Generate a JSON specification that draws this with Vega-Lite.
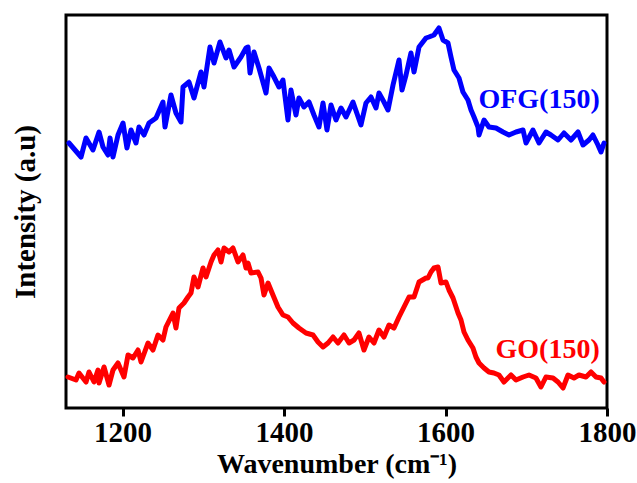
{
  "$schema": "https://vega.github.io/schema/vega-lite/v6.json",
  "autosize": "none",
  "width": 541,
  "height": 393,
  "padding": {"left": 66, "top": 15, "right": 30, "bottom": 75},
  "background": "white",
  "config": {
    "view": {"stroke": "black", "strokeWidth": 3},
    "font": "Liberation Serif"
  },
  "datasets": {
    "spectra": [
      {"w": 1133.7, "v": 265, "s": "OFG(150)"}, {"w": 1148.6, "v": 251, "s": "OFG(150)"}, {"w": 1154.8, "v": 270, "s": "OFG(150)"},
      {"w": 1163.4, "v": 258, "s": "OFG(150)"}, {"w": 1170.9, "v": 276, "s": "OFG(150)"}, {"w": 1175.8, "v": 261, "s": "OFG(150)"},
      {"w": 1182.0, "v": 253, "s": "OFG(150)"}, {"w": 1184.5, "v": 270, "s": "OFG(150)"}, {"w": 1188.2, "v": 251, "s": "OFG(150)"},
      {"w": 1194.4, "v": 273, "s": "OFG(150)"}, {"w": 1200.6, "v": 285, "s": "OFG(150)"}, {"w": 1205.5, "v": 260, "s": "OFG(150)"},
      {"w": 1210.5, "v": 278, "s": "OFG(150)"}, {"w": 1216.7, "v": 265, "s": "OFG(150)"}, {"w": 1220.4, "v": 281, "s": "OFG(150)"},
      {"w": 1226.6, "v": 273, "s": "OFG(150)"}, {"w": 1232.8, "v": 285, "s": "OFG(150)"}, {"w": 1241.5, "v": 290, "s": "OFG(150)"},
      {"w": 1250.1, "v": 306, "s": "OFG(150)"}, {"w": 1252.6, "v": 281, "s": "OFG(150)"}, {"w": 1260.0, "v": 313, "s": "OFG(150)"},
      {"w": 1266.2, "v": 295, "s": "OFG(150)"}, {"w": 1272.4, "v": 286, "s": "OFG(150)"}, {"w": 1274.9, "v": 321, "s": "OFG(150)"},
      {"w": 1282.3, "v": 326, "s": "OFG(150)"}, {"w": 1288.5, "v": 310, "s": "OFG(150)"}, {"w": 1297.2, "v": 336, "s": "OFG(150)"},
      {"w": 1300.9, "v": 321, "s": "OFG(150)"}, {"w": 1308.3, "v": 361, "s": "OFG(150)"}, {"w": 1313.3, "v": 345, "s": "OFG(150)"},
      {"w": 1320.7, "v": 366, "s": "OFG(150)"}, {"w": 1328.1, "v": 350, "s": "OFG(150)"}, {"w": 1331.9, "v": 358, "s": "OFG(150)"},
      {"w": 1338.1, "v": 341, "s": "OFG(150)"}, {"w": 1346.7, "v": 351, "s": "OFG(150)"}, {"w": 1352.9, "v": 360, "s": "OFG(150)"},
      {"w": 1355.4, "v": 361, "s": "OFG(150)"}, {"w": 1357.9, "v": 335, "s": "OFG(150)"}, {"w": 1362.8, "v": 356, "s": "OFG(150)"},
      {"w": 1369.0, "v": 340, "s": "OFG(150)"}, {"w": 1377.7, "v": 315, "s": "OFG(150)"}, {"w": 1381.4, "v": 340, "s": "OFG(150)"},
      {"w": 1386.3, "v": 333, "s": "OFG(150)"}, {"w": 1393.8, "v": 321, "s": "OFG(150)"}, {"w": 1398.7, "v": 328, "s": "OFG(150)"},
      {"w": 1404.9, "v": 288, "s": "OFG(150)"}, {"w": 1408.6, "v": 318, "s": "OFG(150)"}, {"w": 1414.8, "v": 293, "s": "OFG(150)"},
      {"w": 1418.5, "v": 310, "s": "OFG(150)"}, {"w": 1424.7, "v": 301, "s": "OFG(150)"}, {"w": 1430.9, "v": 306, "s": "OFG(150)"},
      {"w": 1437.1, "v": 293, "s": "OFG(150)"}, {"w": 1443.3, "v": 281, "s": "OFG(150)"}, {"w": 1448.3, "v": 305, "s": "OFG(150)"},
      {"w": 1453.2, "v": 278, "s": "OFG(150)"}, {"w": 1458.2, "v": 303, "s": "OFG(150)"}, {"w": 1464.4, "v": 288, "s": "OFG(150)"},
      {"w": 1470.6, "v": 300, "s": "OFG(150)"}, {"w": 1476.8, "v": 291, "s": "OFG(150)"}, {"w": 1485.4, "v": 306, "s": "OFG(150)"},
      {"w": 1495.3, "v": 283, "s": "OFG(150)"}, {"w": 1501.5, "v": 305, "s": "OFG(150)"}, {"w": 1507.7, "v": 311, "s": "OFG(150)"},
      {"w": 1513.9, "v": 300, "s": "OFG(150)"}, {"w": 1517.6, "v": 315, "s": "OFG(150)"}, {"w": 1523.8, "v": 306, "s": "OFG(150)"},
      {"w": 1528.8, "v": 298, "s": "OFG(150)"}, {"w": 1535.0, "v": 323, "s": "OFG(150)"}, {"w": 1542.4, "v": 348, "s": "OFG(150)"},
      {"w": 1546.1, "v": 318, "s": "OFG(150)"}, {"w": 1551.1, "v": 333, "s": "OFG(150)"}, {"w": 1557.2, "v": 355, "s": "OFG(150)"},
      {"w": 1561.0, "v": 336, "s": "OFG(150)"}, {"w": 1567.2, "v": 361, "s": "OFG(150)"}, {"w": 1575.8, "v": 370, "s": "OFG(150)"},
      {"w": 1579.5, "v": 371, "s": "OFG(150)"}, {"w": 1585.7, "v": 373, "s": "OFG(150)"}, {"w": 1591.9, "v": 380, "s": "OFG(150)"},
      {"w": 1596.9, "v": 368, "s": "OFG(150)"}, {"w": 1603.1, "v": 365, "s": "OFG(150)"}, {"w": 1606.8, "v": 351, "s": "OFG(150)"},
      {"w": 1610.5, "v": 338, "s": "OFG(150)"}, {"w": 1616.7, "v": 330, "s": "OFG(150)"}, {"w": 1621.6, "v": 316, "s": "OFG(150)"},
      {"w": 1627.8, "v": 308, "s": "OFG(150)"}, {"w": 1631.6, "v": 298, "s": "OFG(150)"}, {"w": 1635.3, "v": 291, "s": "OFG(150)"},
      {"w": 1640.2, "v": 281, "s": "OFG(150)"}, {"w": 1641.5, "v": 273, "s": "OFG(150)"}, {"w": 1647.7, "v": 288, "s": "OFG(150)"},
      {"w": 1653.8, "v": 281, "s": "OFG(150)"}, {"w": 1662.5, "v": 280, "s": "OFG(150)"}, {"w": 1671.2, "v": 276, "s": "OFG(150)"},
      {"w": 1678.6, "v": 273, "s": "OFG(150)"}, {"w": 1687.3, "v": 276, "s": "OFG(150)"}, {"w": 1696.0, "v": 278, "s": "OFG(150)"},
      {"w": 1699.7, "v": 265, "s": "OFG(150)"}, {"w": 1708.3, "v": 278, "s": "OFG(150)"}, {"w": 1715.8, "v": 265, "s": "OFG(150)"},
      {"w": 1724.4, "v": 276, "s": "OFG(150)"}, {"w": 1730.6, "v": 273, "s": "OFG(150)"}, {"w": 1739.3, "v": 268, "s": "OFG(150)"},
      {"w": 1746.7, "v": 275, "s": "OFG(150)"}, {"w": 1755.4, "v": 268, "s": "OFG(150)"}, {"w": 1764.1, "v": 276, "s": "OFG(150)"},
      {"w": 1770.3, "v": 263, "s": "OFG(150)"}, {"w": 1777.7, "v": 268, "s": "OFG(150)"}, {"w": 1782.6, "v": 273, "s": "OFG(150)"},
      {"w": 1788.8, "v": 263, "s": "OFG(150)"}, {"w": 1792.6, "v": 256, "s": "OFG(150)"}, {"w": 1796.3, "v": 265, "s": "OFG(150)"},

      {"w": 1132.5, "v": 31, "s": "GO(150)"}, {"w": 1142.4, "v": 28, "s": "GO(150)"}, {"w": 1146.1, "v": 35, "s": "GO(150)"},
      {"w": 1154.8, "v": 26, "s": "GO(150)"}, {"w": 1158.5, "v": 36, "s": "GO(150)"}, {"w": 1164.7, "v": 26, "s": "GO(150)"},
      {"w": 1169.6, "v": 38, "s": "GO(150)"}, {"w": 1170.9, "v": 25, "s": "GO(150)"}, {"w": 1177.1, "v": 41, "s": "GO(150)"},
      {"w": 1183.3, "v": 23, "s": "GO(150)"}, {"w": 1188.2, "v": 38, "s": "GO(150)"}, {"w": 1194.4, "v": 45, "s": "GO(150)"},
      {"w": 1201.8, "v": 31, "s": "GO(150)"}, {"w": 1206.8, "v": 53, "s": "GO(150)"}, {"w": 1213.0, "v": 50, "s": "GO(150)"},
      {"w": 1219.2, "v": 58, "s": "GO(150)"}, {"w": 1222.9, "v": 46, "s": "GO(150)"}, {"w": 1231.5, "v": 65, "s": "GO(150)"},
      {"w": 1237.7, "v": 58, "s": "GO(150)"}, {"w": 1243.9, "v": 73, "s": "GO(150)"}, {"w": 1250.1, "v": 68, "s": "GO(150)"},
      {"w": 1253.8, "v": 81, "s": "GO(150)"}, {"w": 1262.5, "v": 95, "s": "GO(150)"}, {"w": 1266.2, "v": 80, "s": "GO(150)"},
      {"w": 1269.9, "v": 100, "s": "GO(150)"}, {"w": 1276.1, "v": 105, "s": "GO(150)"}, {"w": 1281.1, "v": 111, "s": "GO(150)"},
      {"w": 1284.8, "v": 115, "s": "GO(150)"}, {"w": 1288.5, "v": 131, "s": "GO(150)"}, {"w": 1293.5, "v": 121, "s": "GO(150)"},
      {"w": 1299.7, "v": 140, "s": "GO(150)"}, {"w": 1303.4, "v": 131, "s": "GO(150)"}, {"w": 1309.6, "v": 146, "s": "GO(150)"},
      {"w": 1313.3, "v": 153, "s": "GO(150)"}, {"w": 1318.2, "v": 158, "s": "GO(150)"}, {"w": 1322.0, "v": 146, "s": "GO(150)"},
      {"w": 1325.7, "v": 160, "s": "GO(150)"}, {"w": 1331.9, "v": 156, "s": "GO(150)"}, {"w": 1336.8, "v": 160, "s": "GO(150)"},
      {"w": 1343.0, "v": 146, "s": "GO(150)"}, {"w": 1349.2, "v": 153, "s": "GO(150)"}, {"w": 1352.9, "v": 140, "s": "GO(150)"},
      {"w": 1355.4, "v": 145, "s": "GO(150)"}, {"w": 1359.1, "v": 135, "s": "GO(150)"}, {"w": 1367.8, "v": 136, "s": "GO(150)"},
      {"w": 1371.5, "v": 130, "s": "GO(150)"}, {"w": 1375.2, "v": 113, "s": "GO(150)"}, {"w": 1380.2, "v": 125, "s": "GO(150)"},
      {"w": 1386.3, "v": 113, "s": "GO(150)"}, {"w": 1392.5, "v": 101, "s": "GO(150)"}, {"w": 1398.7, "v": 93, "s": "GO(150)"},
      {"w": 1404.9, "v": 91, "s": "GO(150)"}, {"w": 1411.1, "v": 85, "s": "GO(150)"}, {"w": 1418.5, "v": 80, "s": "GO(150)"},
      {"w": 1427.2, "v": 75, "s": "GO(150)"}, {"w": 1435.9, "v": 73, "s": "GO(150)"}, {"w": 1442.1, "v": 66, "s": "GO(150)"},
      {"w": 1448.3, "v": 61, "s": "GO(150)"}, {"w": 1454.5, "v": 65, "s": "GO(150)"}, {"w": 1460.7, "v": 71, "s": "GO(150)"},
      {"w": 1466.8, "v": 65, "s": "GO(150)"}, {"w": 1474.3, "v": 73, "s": "GO(150)"}, {"w": 1480.5, "v": 65, "s": "GO(150)"},
      {"w": 1486.7, "v": 68, "s": "GO(150)"}, {"w": 1492.8, "v": 75, "s": "GO(150)"}, {"w": 1499.0, "v": 58, "s": "GO(150)"},
      {"w": 1505.2, "v": 71, "s": "GO(150)"}, {"w": 1511.4, "v": 65, "s": "GO(150)"}, {"w": 1517.6, "v": 78, "s": "GO(150)"},
      {"w": 1523.8, "v": 71, "s": "GO(150)"}, {"w": 1530.0, "v": 83, "s": "GO(150)"}, {"w": 1536.2, "v": 80, "s": "GO(150)"},
      {"w": 1542.4, "v": 91, "s": "GO(150)"}, {"w": 1548.6, "v": 101, "s": "GO(150)"}, {"w": 1554.8, "v": 111, "s": "GO(150)"},
      {"w": 1561.0, "v": 111, "s": "GO(150)"}, {"w": 1567.2, "v": 126, "s": "GO(150)"}, {"w": 1575.8, "v": 130, "s": "GO(150)"},
      {"w": 1578.3, "v": 130, "s": "GO(150)"}, {"w": 1582.0, "v": 136, "s": "GO(150)"}, {"w": 1585.7, "v": 140, "s": "GO(150)"},
      {"w": 1590.7, "v": 141, "s": "GO(150)"}, {"w": 1594.4, "v": 125, "s": "GO(150)"}, {"w": 1600.6, "v": 126, "s": "GO(150)"},
      {"w": 1604.3, "v": 118, "s": "GO(150)"}, {"w": 1609.3, "v": 110, "s": "GO(150)"}, {"w": 1615.5, "v": 95, "s": "GO(150)"},
      {"w": 1619.2, "v": 88, "s": "GO(150)"}, {"w": 1622.9, "v": 76, "s": "GO(150)"}, {"w": 1627.8, "v": 68, "s": "GO(150)"},
      {"w": 1634.0, "v": 60, "s": "GO(150)"}, {"w": 1637.7, "v": 51, "s": "GO(150)"}, {"w": 1641.5, "v": 45, "s": "GO(150)"},
      {"w": 1647.7, "v": 40, "s": "GO(150)"}, {"w": 1653.8, "v": 36, "s": "GO(150)"}, {"w": 1660.0, "v": 35, "s": "GO(150)"},
      {"w": 1666.2, "v": 33, "s": "GO(150)"}, {"w": 1672.4, "v": 26, "s": "GO(150)"}, {"w": 1681.1, "v": 33, "s": "GO(150)"},
      {"w": 1687.3, "v": 28, "s": "GO(150)"}, {"w": 1696.0, "v": 31, "s": "GO(150)"}, {"w": 1703.4, "v": 33, "s": "GO(150)"},
      {"w": 1712.0, "v": 30, "s": "GO(150)"}, {"w": 1718.2, "v": 21, "s": "GO(150)"}, {"w": 1724.4, "v": 31, "s": "GO(150)"},
      {"w": 1733.1, "v": 30, "s": "GO(150)"}, {"w": 1739.3, "v": 26, "s": "GO(150)"}, {"w": 1745.5, "v": 20, "s": "GO(150)"},
      {"w": 1751.7, "v": 33, "s": "GO(150)"}, {"w": 1759.1, "v": 30, "s": "GO(150)"}, {"w": 1765.3, "v": 33, "s": "GO(150)"},
      {"w": 1774.0, "v": 31, "s": "GO(150)"}, {"w": 1780.2, "v": 36, "s": "GO(150)"}, {"w": 1786.4, "v": 31, "s": "GO(150)"},
      {"w": 1792.6, "v": 30, "s": "GO(150)"}, {"w": 1796.3, "v": 26, "s": "GO(150)"}
    ],
    "labels": [
      {"w": 1791, "v": 308, "s": "OFG(150)"},
      {"w": 1791, "v": 58, "s": "GO(150)"}
    ]
  },
  "layer": [
    {
      "data": {"name": "spectra"},
      "mark": {"type": "line", "strokeWidth": 5, "strokeJoin": "round", "strokeCap": "round"},
      "encoding": {
        "x": {
          "field": "w", "type": "quantitative",
          "scale": {"domain": [1130, 1800], "nice": false, "zero": false},
          "axis": {
            "title": "Wavenumber (cm⁻¹)",
            "values": [1200, 1400, 1600, 1800],
            "format": "d",
            "grid": false, "domain": false,
            "tickColor": "black", "tickWidth": 3, "tickSize": 8,
            "labelFont": "Liberation Serif", "labelFontWeight": "bold", "labelFontSize": 29, "labelColor": "black",
            "labelPadding": 2, "labelFlush": false,
            "titleFont": "Liberation Serif", "titleFontWeight": "bold", "titleFontSize": 28, "titleColor": "black",
            "titlePadding": 3
          }
        },
        "y": {
          "field": "v", "type": "quantitative",
          "scale": {"domain": [0, 393], "nice": false},
          "axis": {
            "title": "Intensity (a.u)",
            "labels": false, "ticks": false, "domain": false, "grid": false,
            "titleFont": "Liberation Serif", "titleFontWeight": "bold", "titleFontSize": 29, "titleColor": "black",
            "titlePadding": 26
          }
        },
        "color": {
          "field": "s", "type": "nominal",
          "scale": {"domain": ["GO(150)", "OFG(150)"], "range": ["#ff0000", "#0000ff"]},
          "legend": null
        },
        "detail": {"field": "s"}
      }
    },
    {
      "data": {"name": "labels"},
      "mark": {"type": "text", "align": "right", "baseline": "middle", "font": "Liberation Serif", "fontWeight": "bold", "fontSize": 28},
      "encoding": {
        "x": {"field": "w", "type": "quantitative"},
        "y": {"field": "v", "type": "quantitative"},
        "text": {"field": "s"},
        "color": {"field": "s", "type": "nominal", "legend": null}
      }
    }
  ]
}
